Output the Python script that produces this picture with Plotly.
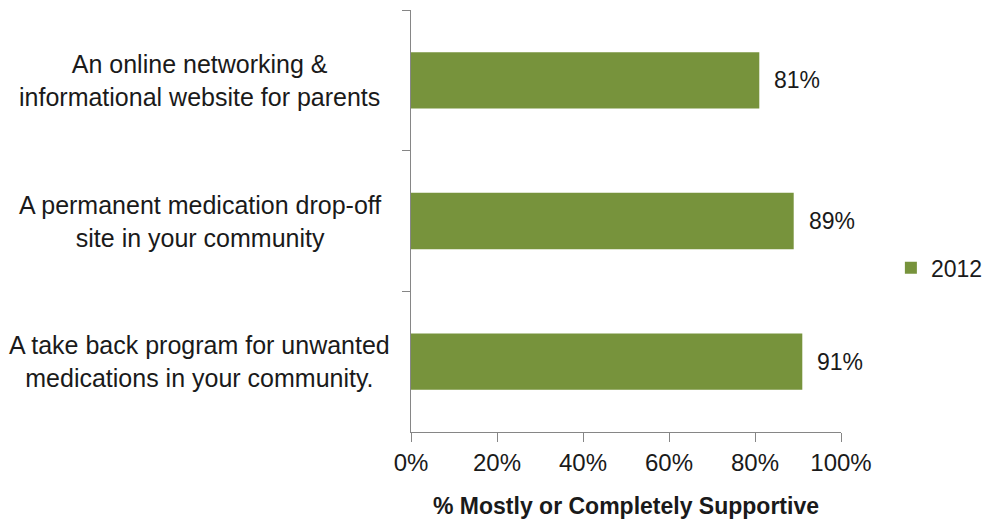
import plotly.graph_objects as go

categories = [
    "An online networking &<br>informational website for parents",
    "A permanent medication drop-off<br>site in your community",
    "A take back program for unwanted<br>medications in your community.",
]
values_2012 = [81, 89, 91]
series_name = "2012"
x_ticks = [0, 20, 40, 60, 80, 100]
x_tick_labels = ["0%", "20%", "40%", "60%", "80%", "100%"]

FONT = "Liberation Sans"
TXT = "#1a1a1a"
GREEN = "#77933C"
AXIS = "#868686"

fig = go.Figure()
fig.add_trace(go.Bar(
    y=categories, x=values_2012, orientation="h", name=series_name,
    marker=dict(color=GREEN, line=dict(width=0)),
    showlegend=True,
))

annotations = []
for c, v in zip(categories, values_2012):
    annotations.append(dict(
        x=v, y=c, xref="x", yref="y", text=f"{v}%", showarrow=False,
        xanchor="left", xshift=13, font=dict(family=FONT, size=23, color=TXT),
    ))
    annotations.append(dict(
        x=-0.491, y=c, xref="paper", yref="y", text=c, showarrow=False,
        xanchor="center", align="center", font=dict(family=FONT, size=25, color=TXT),
    ))

fig.update_layout(
    width=991, height=523,
    margin=dict(l=403, r=158, t=2, b=99, autoexpand=False),
    paper_bgcolor="white", plot_bgcolor="white",
    bargap=0.6,
    font=dict(family=FONT, size=23, color=TXT),
    xaxis=dict(
        range=[0, 100], tickvals=x_ticks, ticktext=x_tick_labels,
        showgrid=False, zeroline=False, showline=True, linecolor=AXIS, linewidth=1,
        ticks="outside", ticklen=9, tickcolor=AXIS,
        tickfont=dict(family=FONT, size=24, color=TXT),
        title=dict(text="<b>% Mostly or Completely Supportive</b>",
                   font=dict(family=FONT, size=23, color=TXT), standoff=23),
    ),
    yaxis=dict(
        categoryorder="array", categoryarray=categories, autorange="reversed",
        showticklabels=False, showgrid=False, zeroline=False,
        showline=True, linecolor=AXIS, linewidth=1,
        ticks="outside", ticklen=8, tickcolor=AXIS, tickson="boundaries",
    ),
    legend=dict(x=1.116, y=0.389, xanchor="left", yanchor="middle",
                font=dict(family=FONT, size=23, color=TXT), bgcolor="rgba(0,0,0,0)"),
    annotations=annotations,
)

fig.write_html("out.html")
